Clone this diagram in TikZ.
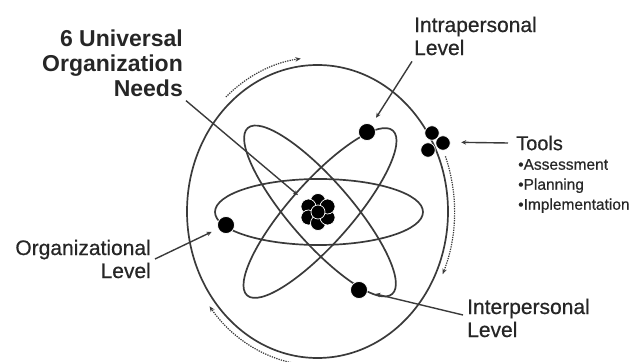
\documentclass[tikz,border=0pt]{standalone}
\usepackage{fontspec}
\setmainfont{Liberation Sans}
\usetikzlibrary{arrows.meta}
\definecolor{ink}{HTML}{262626}
\definecolor{orb}{HTML}{3A3A3A}
\tikzset{
  orbit/.style={draw=orb, line width=1.7pt},
  electron/.style={circle, fill=black, draw=white, line width=0.7pt, minimum size=17pt, inner sep=0pt},
  tooldot/.style={circle, fill=black, draw=white, line width=0.7pt, minimum size=14.5pt, inner sep=0pt},
  lbl/.style={text=ink, inner sep=0pt, font=\fontsize{21}{23}\selectfont\addfontfeatures{FakeBold=0.6}},
  ttl/.style={text=ink, inner sep=0pt, font=\fontsize{23}{25}\selectfont\bfseries},
  conn/.style={draw=orb, line width=1.4pt, -{Stealth[length=5pt,width=4.5pt]}},
  circarrow/.style={draw=orb, line width=1.2pt, dash pattern=on 1.3pt off 1.1pt, -{Stealth[length=5.5pt,width=4.5pt]}}
}
\begin{document}
\begin{tikzpicture}[x=1pt,y=1pt]
\useasboundingbox (0,0) rectangle (641,362);
\coordinate (c) at (317.5,150.5);
% big ellipse
\draw[orbit] (c) ellipse [x radius=130.5, y radius=146.5];
% orbits
\draw[orbit] (319,150) ellipse [x radius=104, y radius=33];
\draw[orbit, rotate around={-49:(320,151)}] (320,151) ellipse [x radius=110, y radius=31];
\draw[orbit, rotate around={48.5:(320,149)}] (320,149) ellipse [x radius=110, y radius=31];
% nucleus
\node[circle, minimum size=38pt, inner sep=0pt] (nuc) at (318,150) {};
\foreach \a in {90,150,210,270,330,30}
  \filldraw[fill=black, draw=white, line width=0.7pt] (nuc.center) ++(\a:11) circle (7.5);
\filldraw[fill=black, draw=white, line width=0.7pt] (nuc.center) circle (7);
% electrons
\node[electron] (eintra) at (367,230) {};
\node[electron] (eorg) at (226,137) {};
\node[electron] (einter) at (359,72) {};
% tools cluster
\node[tooldot] (t1) at (432,229) {};
\node[tooldot] (t2) at (443,219) {};
\node[tooldot] (t3) at (428,212) {};
\node[circle, minimum size=30pt, inner sep=0pt] (tools) at (436,220) {};
% circulation arrows
\draw[circarrow] ([shift={(132:137 and 154)}]c) arc[start angle=132, end angle=97, x radius=137, y radius=154];
\draw[circarrow] ([shift={(21:137 and 154)}]c) arc[start angle=21, end angle=-24, x radius=137, y radius=154];
\draw[circarrow] ([shift={(262:137 and 154)}]c) arc[start angle=262, end angle=218, x radius=137, y radius=154];
% labels
\node[ttl, anchor=east, align=right] (title) at (183,299) {6 Universal\\Organization\\Needs};
\node[lbl, anchor=west, align=left] (intra) at (414,326) {Intrapersonal\\Level};
\node[lbl, anchor=west, font=\fontsize{20}{22}\selectfont\addfontfeatures{FakeBold=0.6}] (toolslbl) at (516,219) {Tools};
\node[text=ink, inner sep=0pt, anchor=west, align=left, font=\fontsize{15.5}{20}\selectfont\addfontfeatures{FakeBold=0.5}] (bul) at (518,176) {•Assessment\\•Planning\\•Implementation};
\node[lbl, anchor=east, align=right] (org) at (151,103) {Organizational\\Level};
\node[lbl, anchor=west, align=left] (inter) at (467,44) {Interpersonal\\Level};
% connectors
\draw[conn, shorten >=7pt] ([shift={(3,-4)}]title.south east) -- (nuc);
\draw[conn, shorten >=8pt] ([shift={(-2,-6)}]intra.south west) -- (eintra);
\draw[conn, shorten >=10pt] ([shift={(-8,0)}]toolslbl.west) -- (tools);
\draw[conn, shorten >=7pt] ([shift={(4,0)}]org.east) -- (eorg);
\draw[conn, shorten >=8pt] ([shift={(-4,3)}]inter.west) -- (einter);
\end{tikzpicture}
\end{document}
